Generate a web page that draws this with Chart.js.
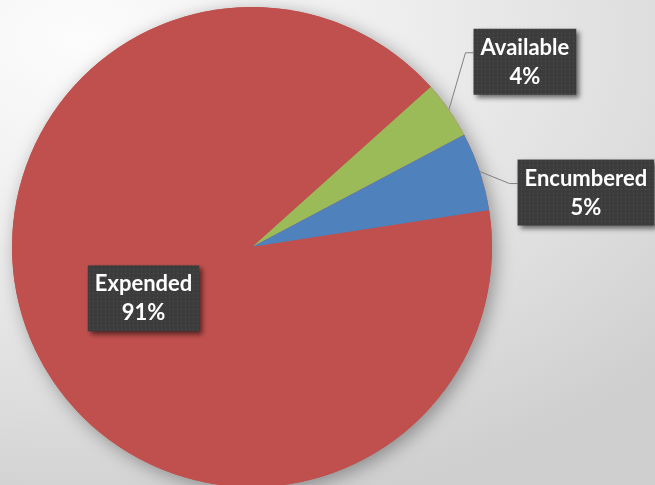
<!DOCTYPE html>
<html>
<head>
<meta charset="utf-8">
<script src="https://cdn.jsdelivr.net/npm/chart.js"></script>
<style>
  html, body { margin: 0; padding: 0; overflow: hidden; }
  body {
    width: 655px; height: 485px;
    background: radial-gradient(ellipse 120% 100% at 12% 8%, #fcfcfc 0%, #eeeeee 40%, #dddddd 75%, #cfcfcf 100%);
  }
  #wrap { position: relative; width: 655px; height: 493px; }
</style>
</head>
<body>
<div id="wrap"><canvas id="pieChart"></canvas></div>
<script>
// data
const categories = ["Available", "Encumbered", "Expended"];
const values = [3.9, 5.3, 90.8];
const sliceColors = ["#9BBB59", "#4F81BD", "#C0504D"];

// where each label box sits (offset of box centre from the slice's outer mid point; null = inside)
const labelPlacement = [
  { dx: 76, dy: -48 },
  { dx: 106, dy: 21 },
  null
];

// small dotted texture for the label boxes
function makePattern(ctx) {
  const p = document.createElement("canvas");
  p.width = 4; p.height = 4;
  const pc = p.getContext("2d");
  pc.fillStyle = "#3c3c3c";
  pc.fillRect(0, 0, 4, 4);
  pc.fillStyle = "#505050";
  pc.fillRect(1, 1, 1, 1);
  return ctx.createPattern(p, "repeat");
}

const pieShadow = {
  id: "pieShadow",
  beforeDatasetsDraw(chart) {
    const arc = chart.getDatasetMeta(0).data[0];
    if (!arc) return;
    const ctx = chart.ctx;
    ctx.save();
    ctx.shadowColor = "rgba(0,0,0,0.35)";
    ctx.shadowBlur = 18;
    ctx.shadowOffsetX = 4;
    ctx.shadowOffsetY = 4;
    ctx.fillStyle = "#C0504D";
    ctx.beginPath();
    ctx.arc(arc.x, arc.y, arc.outerRadius, 0, Math.PI * 2);
    ctx.fill();
    ctx.restore();
  }
};

const boxLabels = {
  id: "boxLabels",
  afterDatasetsDraw(chart) {
    const ctx = chart.ctx;
    const meta = chart.getDatasetMeta(0);
    const total = values.reduce((a, b) => a + b, 0);
    const pattern = makePattern(ctx);
    ctx.save();
    ctx.font = "bold 22px Lato";
    meta.data.forEach((arc, i) => {
      const p = arc.getProps(["x", "y", "startAngle", "endAngle", "outerRadius"], true);
      const mid = (p.startAngle + p.endAngle) / 2;
      const line1 = categories[i];
      const line2 = Math.round(values[i] / total * 100) + "%";
      const w = Math.max(ctx.measureText(line1).width, ctx.measureText(line2).width) + 14;
      const h = 66;
      let cx, cy;
      const place = labelPlacement[i];
      if (place) {
        const ex = p.x + Math.cos(mid) * p.outerRadius;
        const ey = p.y + Math.sin(mid) * p.outerRadius;
        cx = ex + place.dx;
        cy = ey + place.dy;
        const left = cx - w / 2;
        const elbowY = cy - h / 2 + 24;
        ctx.strokeStyle = "#808080";
        ctx.lineWidth = 1;
        ctx.beginPath();
        ctx.moveTo(left, elbowY);
        ctx.lineTo(left - 8, elbowY);
        ctx.lineTo(ex, ey);
        ctx.stroke();
      } else {
        const r = p.outerRadius * 0.5;
        cx = p.x + Math.cos(mid) * r;
        cy = p.y + Math.sin(mid) * r;
      }
      ctx.save();
      ctx.shadowColor = "rgba(0,0,0,0.55)";
      ctx.shadowBlur = 5;
      ctx.shadowOffsetX = 3;
      ctx.shadowOffsetY = 3;
      ctx.fillStyle = pattern;
      ctx.fillRect(cx - w / 2, cy - h / 2, w, h);
      ctx.restore();
      ctx.fillStyle = "#ffffff";
      ctx.textAlign = "center";
      ctx.textBaseline = "middle";
      ctx.fillText(line1, cx, cy - 14);
      ctx.fillText(line2, cx, cy + 15);
    });
    ctx.restore();
  }
};

new Chart(document.getElementById("pieChart"), {
  type: "pie",
  data: {
    labels: categories,
    datasets: [{
      data: values,
      backgroundColor: sliceColors,
      borderWidth: 0
    }]
  },
  options: {
    responsive: true,
    maintainAspectRatio: false,
    animation: false,
    rotation: 48.1,
    layout: { padding: { left: 12, right: 163, top: 7, bottom: 6 } },
    plugins: {
      legend: { display: false },
      tooltip: { enabled: false }
    }
  },
  plugins: [pieShadow, boxLabels]
});
</script>
</body>
</html>
